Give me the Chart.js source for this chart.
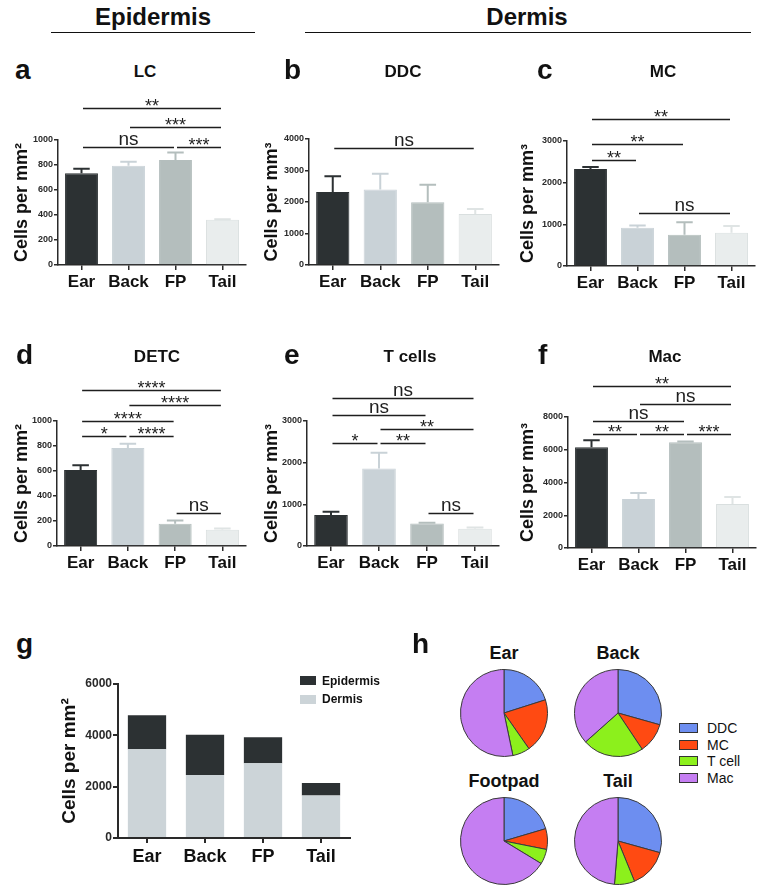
<!DOCTYPE html>
<html>
<head>
<meta charset="utf-8">
<script src="https://cdn.jsdelivr.net/npm/chart.js@4.4.1/dist/chart.umd.min.js"></script>
<style>
  body { margin: 0; background: #fff; width: 764px; height: 896px; position: relative; overflow: hidden;
         font-family: "Liberation Sans", Arial, sans-serif; color: #111; }
  canvas { position: absolute; }
  .t { position: absolute; white-space: nowrap; line-height: 1; z-index: 2; }
  .rule { position: absolute; height: 0; border-top: 1.5px solid #111; }
  .sw { position: absolute; box-sizing: border-box; }
</style>
</head>
<body>
<div class="rule" style="left:51px;top:32px;width:204px"></div>
<div class="rule" style="left:305px;top:32px;width:446px"></div>
<script>
// ---- data ----
const sites = ['Ear', 'Back', 'FP', 'Tail'];

const lcMean = [735, 795, 840, 362];
const lcSem = [35, 32, 60, 5];
const ddcMean = [2320, 2400, 1990, 1620];
const ddcSem = [500, 500, 560, 160];
const mcMean = [2330, 920, 750, 800];
const mcSem = [45, 55, 300, 160];
const detcMean = [608, 784, 178, 130];
const detcSem = [38, 35, 27, 10];
const tMean = [742, 1860, 540, 414];
const tSem = [80, 380, 20, 33];
const macMean = [6150, 2990, 6460, 2690];
const macSem = [430, 370, 40, 430];

// significance brackets: [from, to, level (y value), label]
const lcSig = [[0, 3, 1256, '**'], [1, 3, 1104, '***'], [0, 2, 944, 'ns'], [2, 3, 944, '***']];
const ddcSig = [[0, 3, 3730, 'ns']];
const mcSig = [[0, 3, 3538, '**'], [0, 2, 2921, '**'], [0, 1, 2537, '**'], [1, 3, 1282, 'ns']];
const detcSig = [[0, 3, 1245, '****'], [1, 3, 1125, '****'], [0, 2, 1000, '****'],
                 [0, 1, 880, '*'], [1, 2, 880, '****'], [2, 3, 266, 'ns']];
const tSig = [[0, 3, 3550, 'ns'], [0, 2, 3153, 'ns'], [1, 3, 2818, '**'],
              [0, 1, 2483, '*'], [1, 2, 2483, '**'], [2, 3, 783, 'ns']];
const macSig = [[0, 3, 9869, '**'], [1, 3, 8812, 'ns'], [0, 2, 7730, 'ns'],
                [0, 1, 6980, '**'], [1, 2, 6980, '**'], [2, 3, 6980, '***']];

const epidermisTotal = [1320, 1570, 1010, 485];
const dermisTotal = [3460, 2450, 2915, 1655];

const cellTypes = ['DDC', 'MC', 'T cell', 'Mac'];
const pieTitles = ['Ear', 'Back', 'Footpad', 'Tail'];

// ---- styles ----
const siteColors = ['#2c3133', '#c9d2d7', '#b4bebd', '#e9eded'];
const siteEdges = ['#2c3133', '#c9d2d7', '#b4bebd', '#d9dfdf'];
const cellColors = ['#6d8ef0', '#ff4a12', '#8cf01c', '#c57ef2'];
const axisColor = '#2a2a2a';

Chart.defaults.font.family = '"Liberation Sans", Arial, sans-serif';
Chart.defaults.color = '#222';
Chart.defaults.animation = false;
Chart.defaults.plugins.legend.display = false;
Chart.defaults.plugins.tooltip.enabled = false;

const plainTick = v => v.toString();

function addText(text, x, base, size, weight, align) {
  const d = document.createElement('div');
  d.className = 't';
  d.textContent = text;
  d.style.fontSize = size + 'px';
  d.style.fontWeight = weight;
  d.style.top = (base - 0.8465 * size) + 'px';
  d.style.left = x + 'px';
  if (align === 'center') d.style.transform = 'translateX(-50%)';
  document.body.appendChild(d);
}

function addCanvas(left, top, w, h) {
  const c = document.createElement('canvas');
  c.width = w; c.height = h;
  c.style.left = left + 'px'; c.style.top = top + 'px';
  c.style.width = w + 'px'; c.style.height = h + 'px';
  document.body.appendChild(c);
  return c;
}

// error bars (upward only) + significance lines
function sigPlugin(p) {
  return {
    id: 'sig',
    afterDatasetsDraw(chart) {
      const ctx = chart.ctx, xs = chart.scales.x, ys = chart.scales.y;
      const ds = chart.data.datasets[0];
      ctx.save();
      chart.getDatasetMeta(0).data.forEach((bar, i) => {
        const top = ys.getPixelForValue(ds.data[i] + p.sem[i]);
        const half = bar.width * 0.25;
        ctx.strokeStyle = siteColors[i] === '#e9eded' ? '#dfe4e4' : siteColors[i];
        ctx.lineWidth = 2;
        ctx.beginPath();
        ctx.moveTo(bar.x, bar.y); ctx.lineTo(bar.x, top);
        ctx.moveTo(bar.x - half, top); ctx.lineTo(bar.x + half, top);
        ctx.stroke();
      });
      p.sig.forEach(([a, b, level, mark]) => {
        const x0 = xs.getPixelForValue(a) + 1.5, x1 = xs.getPixelForValue(b) - 1.5;
        const yy = Math.round(ys.getPixelForValue(level)) + 0.5;
        ctx.strokeStyle = '#1e1e1e';
        ctx.lineWidth = 1.5;
        ctx.beginPath(); ctx.moveTo(x0, yy); ctx.lineTo(x1, yy); ctx.stroke();
        ctx.fillStyle = '#1e1e1e';
        ctx.textAlign = 'center';
        ctx.textBaseline = 'alphabetic';
        if (mark === 'ns') {
          ctx.font = '19px "Liberation Sans", Arial, sans-serif';
          ctx.fillText('ns', (x0 + x1) / 2, yy - 3);
        } else {
          ctx.font = '18px "Liberation Sans", Arial, sans-serif';
          ctx.fillText(mark, (x0 + x1) / 2, yy + 3);
        }
      });
      ctx.restore();
    }
  };
}

function barPanel(p) {
  const b = p.box;
  const cv = addCanvas(b.left, b.top, b.w, b.h);
  return new Chart(cv, {
    type: 'bar',
    data: {
      labels: sites,
      datasets: [{
        data: p.mean,
        backgroundColor: siteColors,
        borderColor: siteEdges,
        borderWidth: 1,
        barPercentage: 0.7,
        categoryPercentage: 1
      }]
    },
    options: {
      responsive: false,
      layout: { padding: { left: 0, top: b.plotTop - b.top, right: b.left + b.w - b.plotRight, bottom: 0 } },
      scales: {
        x: {
          afterFit: s => { s.height = b.top + b.h - b.plotBottom; },
          grid: { display: true, drawOnChartArea: false, offset: false, color: axisColor, lineWidth: 1.5, tickLength: 5 },
          border: { color: axisColor, width: 1.5 },
          ticks: { font: { size: 17, weight: 'bold' }, color: '#111', padding: 2, maxRotation: 0, autoSkip: false }
        },
        y: {
          min: 0, max: p.max,
          afterFit: s => { s.width = b.axisX - b.left; },
          ticks: { stepSize: p.step, font: { size: 9, weight: 'bold' }, color: '#2a2a2a', padding: 1, callback: plainTick },
          grid: { drawOnChartArea: false, color: axisColor, lineWidth: 1.5, tickLength: 4 },
          border: { color: axisColor, width: 1.5 },
          title: {
            display: true, text: p.unit, color: '#111',
            font: { size: 18, weight: 'bold' },
            padding: { top: b.titleX - b.left - 10.8, bottom: 0 }
          }
        }
      }
    },
    plugins: [sigPlugin(p)]
  });
}

const panels = [
  { mean: lcMean, sem: lcSem, sig: lcSig, max: 1000, step: 200, unit: 'Cells per mm²',
    box: { left: 0, top: 88, w: 252, h: 215, axisX: 58, plotTop: 140, plotBottom: 265, plotRight: 246, titleX: 22 } },
  { mean: ddcMean, sem: ddcSem, sig: ddcSig, max: 4000, step: 1000, unit: 'Cells per mm³',
    box: { left: 250, top: 88, w: 254, h: 215, axisX: 309, plotTop: 139, plotBottom: 265, plotRight: 499, titleX: 272 } },
  { mean: mcMean, sem: mcSem, sig: mcSig, max: 3000, step: 1000, unit: 'Cells per mm³',
    box: { left: 506, top: 88, w: 258, h: 215, axisX: 567, plotTop: 141, plotBottom: 266, plotRight: 755, titleX: 528 } },
  { mean: detcMean, sem: detcSem, sig: detcSig, max: 1000, step: 200, unit: 'Cells per mm²',
    box: { left: 0, top: 368, w: 252, h: 222, axisX: 57, plotTop: 421, plotBottom: 546, plotRight: 246, titleX: 22 } },
  { mean: tMean, sem: tSem, sig: tSig, max: 3000, step: 1000, unit: 'Cells per mm³',
    box: { left: 250, top: 368, w: 254, h: 222, axisX: 307, plotTop: 421, plotBottom: 546, plotRight: 499, titleX: 272 } },
  { mean: macMean, sem: macSem, sig: macSig, max: 8000, step: 2000, unit: 'Cells per mm³',
    box: { left: 506, top: 368, w: 258, h: 222, axisX: 568, plotTop: 417, plotBottom: 548, plotRight: 756, titleX: 528 } }
];
panels.forEach(barPanel);

// ---- g: stacked totals ----
const gb = { left: 40, top: 660, w: 320, h: 222, axisX: 118, plotTop: 684, plotBottom: 838, plotRight: 350, titleX: 70 };
const gChart = new Chart(addCanvas(gb.left, gb.top, gb.w, gb.h), {
  type: 'bar',
  data: {
    labels: sites,
    datasets: [
      { label: 'Dermis', data: dermisTotal, backgroundColor: '#ccd4d8', barPercentage: 0.66, categoryPercentage: 1 },
      { label: 'Epidermis', data: epidermisTotal, backgroundColor: '#2c3133', barPercentage: 0.66, categoryPercentage: 1 }
    ]
  },
  options: {
    responsive: false,
    layout: { padding: { left: 0, top: gb.plotTop - gb.top, right: gb.left + gb.w - gb.plotRight, bottom: 0 } },
    scales: {
      x: {
        stacked: true,
        afterFit: s => { s.height = gb.top + gb.h - gb.plotBottom; },
        grid: { display: true, drawOnChartArea: false, offset: false, color: axisColor, lineWidth: 2, tickLength: 5 },
        border: { color: axisColor, width: 2 },
        ticks: { font: { size: 18, weight: 'bold' }, color: '#111', padding: 3, maxRotation: 0, autoSkip: false }
      },
      y: {
        stacked: true, min: 0, max: 6000,
        afterFit: s => { s.width = gb.axisX - gb.left; },
        ticks: { stepSize: 2000, font: { size: 12, weight: 'bold' }, color: '#2a2a2a', padding: 1, callback: plainTick },
        grid: { drawOnChartArea: false, color: axisColor, lineWidth: 2, tickLength: 5 },
        border: { color: axisColor, width: 2 },
        title: { display: true, text: 'Cells per mm²', color: '#111', font: { size: 19, weight: 'bold' },
                 padding: { top: gb.titleX - gb.left - 11.4, bottom: 0 } }
      }
    }
  }
});
// legend for g, top entry = top of stack
gChart.data.datasets.slice().reverse().forEach((ds, k) => {
  const cy = 680.5 + k * 18.5;
  const sw = document.createElement('div');
  sw.className = 'sw';
  sw.style.cssText = `left:300px;top:${cy - 4.5}px;width:16px;height:9px;background:${ds.backgroundColor}`;
  document.body.appendChild(sw);
  addText(ds.label, 322, cy + 4.3, 12, 'bold', 'left');
});

// ---- h: pies ----
const pieCenters = [[504, 713], [618, 713], [504, 841], [618, 841]];
pieTitles.forEach((name, i) => {
  const [cx, cy] = pieCenters[i];
  new Chart(addCanvas(cx - 45, cy - 45, 90, 90), {
    type: 'pie',
    data: {
      labels: cellTypes,
      datasets: [{
        data: [ddcMean[i], mcMean[i], tMean[i], macMean[i]],
        backgroundColor: cellColors, borderColor: '#3a3a3a', borderWidth: 1
      }]
    },
    options: { responsive: false, layout: { padding: 1 } }
  });
  addText(name, cx, cy - 54, 18, 'bold', 'center');
});
cellTypes.forEach((name, k) => {
  const cy = 728 + k * 16.5;
  const sw = document.createElement('div');
  sw.className = 'sw';
  sw.style.cssText = `left:679px;top:${cy - 5}px;width:19px;height:10px;background:${cellColors[k]};border:1px solid #333`;
  document.body.appendChild(sw);
  addText(name, 707, cy + 5, 14, 'normal', 'left');
});

// ---- headings & panel letters ----
addText('Epidermis', 153, 25, 24, 'bold', 'center');
addText('Dermis', 527, 25, 24, 'bold', 'center');
[['a', 15, 80], ['b', 284, 80], ['c', 537, 80], ['d', 16, 365], ['e', 284, 365], ['f', 538, 365],
 ['g', 16, 654], ['h', 412, 654]].forEach(([l, x, y]) => addText(l, x, y, 28, 'bold', 'left'));
[['LC', 145, 77], ['DDC', 403, 77], ['MC', 663, 77], ['DETC', 157, 362], ['T cells', 410, 362], ['Mac', 665, 362]]
  .forEach(([l, x, y]) => addText(l, x, y, 17, 'bold', 'center'));
</script>
</body>
</html>
